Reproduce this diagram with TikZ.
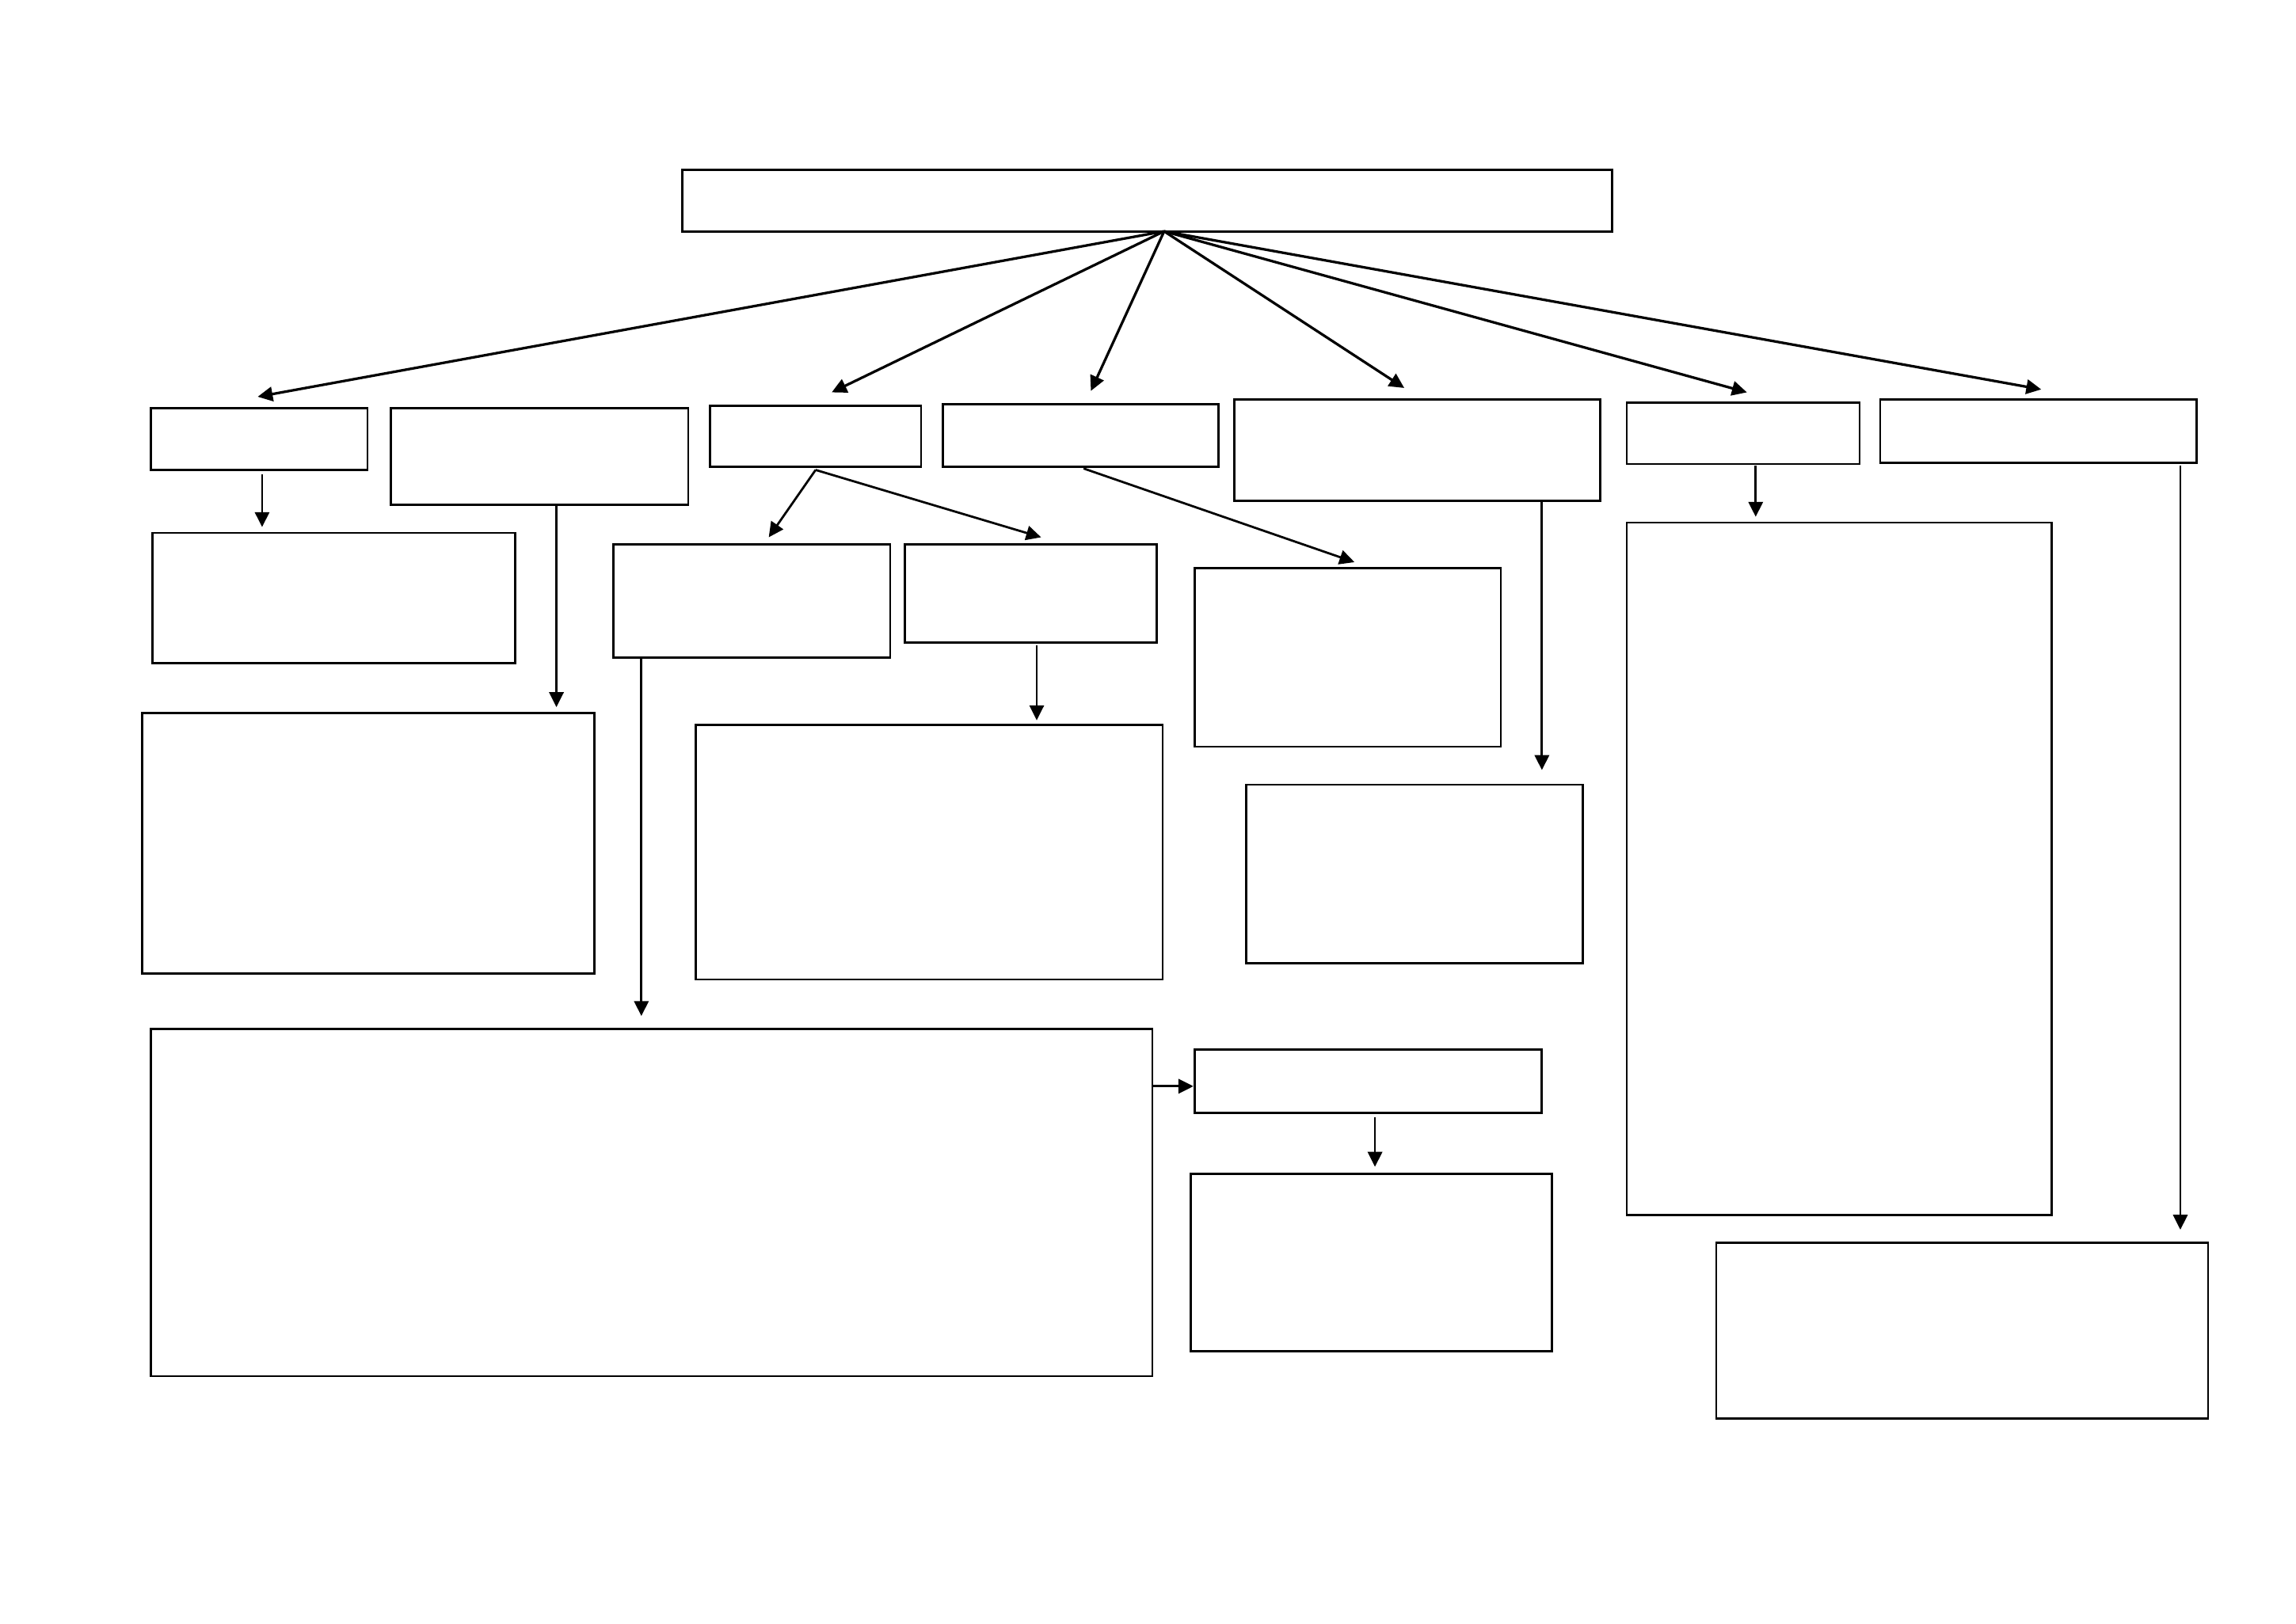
\documentclass[tikz,border=0pt]{standalone}
\usepackage{tikz}
\usetikzlibrary{arrows.meta,positioning,calc,fit}
\tikzset{
    box/.style={draw,line width=0.85pt,inner sep=0pt,outer sep=0pt},
    arr/.style={-{Triangle[length=5.8pt,width=5.6pt]},line width=0.85pt},
    fan arr/.style={arr,line width=1pt},
}

\begin{document}
\begin{tikzpicture}[x=0.02cm,y=-0.02cm]
    \useasboundingbox (0,0) rectangle (1568,1109);
    % top box and first row
    \node[box, fit={(466,116) (1101,158)}] (top) {};
    \node[box, fit={(103,279) (251,321)}] (a1) {};
    \node[box, fit={(267,279) (470,345)}] (a2) {};
    \node[box, fit={(485,277) (629,319)}] (a3) {};
    \node[box, fit={(644,276) (832,319)}] (a4) {};
    \node[box, fit={(843,273) (1093,342)}] (a5) {};
    \node[box, fit={(1111,275) (1270,317)}] (a6) {};
    \node[box, fit={(1284,273) (1500,316)}] (a7) {};
    % lower boxes
    \node[box, fit={(104,364) (352,453)}] (b1) {};
    \node[box, fit={(97,487) (406,665)}] (b2) {};
    \node[box, fit={(419,372) (608,449)}] (c1) {};
    \node[box, fit={(618,372) (790,439)}] (c2) {};
    \node[box, fit={(475,495) (794,669)}] (c3) {};
    \node[box, fit={(816,388) (1025,510)}] (d1) {};
    \node[box, fit={(851,536) (1081,658)}] (d2) {};
    \node[box, fit={(1111,357) (1401,830)}] (e1) {};
    \node[box, fit={(1172,849) (1508,969)}] (f1) {};
    \node[box, fit={(103,703) (787,940)}] (g1) {};
    \node[box, fit={(816,717) (1053,760)}] (g2) {};
    \node[box, fit={(813,802) (1060,923)}] (g3) {};

    % fan out of the top box
    \coordinate (hub) at ($(top.south)+(11.5,0)$);
    \draw[fan arr] (hub) -- ($(a1.north)+(-1,-8)$);
    \draw[fan arr] (hub) -- ($(a3.north)+(11,-9)$);
    \draw[fan arr] (hub) -- ($(a4.north)+(7,-9)$);
    \draw[fan arr] (hub) -- ($(a5.north)+(-9,-8)$);
    \draw[fan arr] (hub) -- ($(a6.north)+(2.5,-7)$);
    \draw[fan arr] (hub) -- ($(a7.north)+(2,-7)$);

    \draw[arr] ($(a1.south)+(2,3)$) -- ($(a1.south |- b1.north)+(2,-4)$);
    \draw[arr] ($(a2.south)+(11.5,0)$) -- ($(a2.south |- b2.north)+(11.5,-4)$);
    \draw[arr] ($(a3.south)+(0,2)$) -- ($(c1.north)+(11.5,-5)$);
    \draw[arr] ($(a3.south)+(0,2)$) -- ($(c2.north)+(7,-5)$);
    \draw[arr] ($(a4.south)+(2,1)$) -- ($(d1.north)+(4.5,-4)$);
    \draw[arr] ($(a5.south east)+(-40,0)$) -- ($(a5.south east |- d2.north)+(-40,-10)$);
    \draw[arr] ($(a6.south)+(8.5,1)$) -- ($(a6.south |- e1.north)+(8.5,-4)$);
    \draw[arr] ($(a7.south east)+(-11,2)$) -- ($(a7.south east |- f1.north)+(-11,-9)$);
    \draw[arr] ($(c1.south west)+(19,0)$) -- ($(c1.south west |- g1.north)+(19,-9)$);
    \draw[arr] ($(c2.south)+(4,2)$) -- ($(c2.south |- c3.north)+(4,-3)$);
    \draw[arr] ($(g2.west -| g1.east)+(0,3.5)$) -- ($(g2.west)+(-1,3.5)$);
    \draw[arr] ($(g2.south)+(4.5,3)$) -- ($(g2.south |- g3.north)+(4.5,-5)$);
\end{tikzpicture}
\end{document}
